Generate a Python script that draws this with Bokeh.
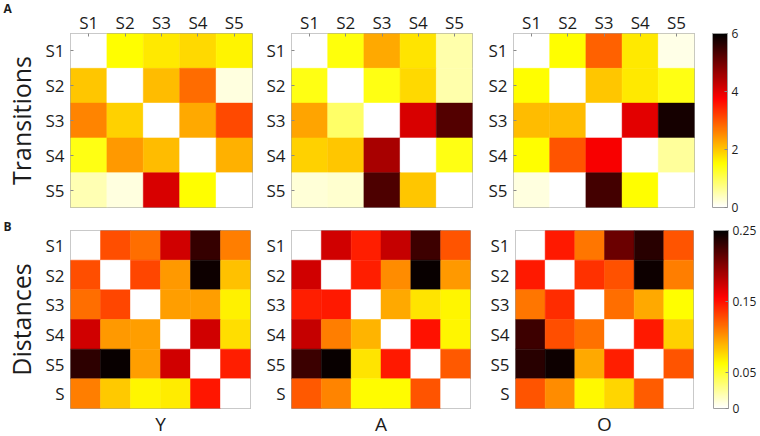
import numpy as np
from bokeh.plotting import figure
from bokeh.layouts import row, column
from bokeh.models import (ColumnDataSource, LinearColorMapper, ColorBar, FixedTicker,
                          FactorRange, Title)
from bokeh.transform import transform
from bokeh.embed import file_html
from bokeh.resources import INLINE

# ---------------- data ----------------
states5 = ["S1", "S2", "S3", "S4", "S5"]
states6 = ["S1", "S2", "S3", "S4", "S5", "S"]
groups = ["Y", "A", "O"]
panel_letters = ["A", "B"]

trans_Y = [
    [0.0, 1.5, 1.7, 1.85, 1.6],
    [2.0, 0.0, 2.1, 2.8, 0.2],
    [2.6, 1.9, 0.0, 2.25, 3.1],
    [1.4, 2.4, 2.1, 0.0, 2.2],
    [0.45, 0.2, 4.1, 1.5, 0.0],
]
trans_A = [
    [0.0, 1.45, 2.25, 1.75, 0.5],
    [1.4, 0.0, 1.4, 1.85, 0.5],
    [2.3, 0.9, 0.0, 4.1, 5.25],
    [1.9, 2.0, 4.5, 0.0, 1.4],
    [0.25, 0.3, 5.3, 2.0, 0.0],
]
trans_O = [
    [0.0, 1.5, 2.9, 1.7, 0.15],
    [1.5, 0.0, 2.0, 1.7, 1.4],
    [2.1, 2.1, 0.0, 4.0, 5.8],
    [1.5, 3.0, 3.8, 0.0, 0.6],
    [0.2, 0.02, 5.4, 1.5, 0.0],
]

dist_Y = [
    [0.0, 0.127, 0.116, 0.173, 0.230, 0.110],
    [0.127, 0.0, 0.130, 0.100, 0.245, 0.085],
    [0.116, 0.130, 0.0, 0.098, 0.098, 0.068],
    [0.173, 0.100, 0.098, 0.0, 0.173, 0.075],
    [0.233, 0.247, 0.098, 0.173, 0.0, 0.145],
    [0.110, 0.083, 0.066, 0.070, 0.148, 0.0],
]
dist_A = [
    [0.0, 0.173, 0.145, 0.177, 0.227, 0.125],
    [0.173, 0.0, 0.145, 0.105, 0.247, 0.100],
    [0.145, 0.147, 0.0, 0.094, 0.073, 0.066],
    [0.177, 0.110, 0.090, 0.0, 0.150, 0.066],
    [0.228, 0.247, 0.073, 0.147, 0.0, 0.124],
    [0.124, 0.108, 0.064, 0.064, 0.125, 0.0],
]
dist_O = [
    [0.0, 0.147, 0.113, 0.210, 0.235, 0.125],
    [0.147, 0.0, 0.138, 0.126, 0.245, 0.110],
    [0.113, 0.140, 0.0, 0.116, 0.094, 0.063],
    [0.227, 0.127, 0.115, 0.0, 0.147, 0.080],
    [0.235, 0.245, 0.094, 0.145, 0.0, 0.125],
    [0.125, 0.105, 0.065, 0.078, 0.123, 0.0],
]

trans_ticks = [0, 2, 4, 6]
trans_tick_labels = ["0", "2", "4", "6"]
dist_ticks = [0, 0.05, 0.15, 0.25]
dist_tick_labels = ["0", "0.05", "0.15", "0.25"]

# ---------------- style ----------------
FONT = "Open Sans"
TXT = "#1c1c1c"


def hot_reversed(n=256):
    cols = []
    for i in range(n):
        x = 1.0 - i / (n - 1)
        r = min(1.0, x / 0.375)
        g = min(1.0, max(0.0, (x - 0.375) / 0.375))
        b = min(1.0, max(0.0, (x - 0.75) / 0.25))
        cols.append("#%02x%02x%02x" % (int(round(r * 255)), int(round(g * 255)), int(round(b * 255))))
    return cols


PAL = hot_reversed()
map_t = LinearColorMapper(palette=PAL, low=0, high=6)
map_d = LinearColorMapper(palette=PAL, low=0, high=0.25)


def make_source(mat, labels):
    xs, ys, vs = [], [], []
    for i, rlab in enumerate(labels):
        for j, clab in enumerate(labels):
            xs.append(clab)
            ys.append(rlab)
            vs.append(mat[i][j])
    return ColumnDataSource(dict(x=xs, y=ys, v=vs))


def style_axis(ax):
    ax.axis_line_color = None
    ax.major_tick_line_color = "#8a8a8a"
    ax.major_tick_in = 3
    ax.major_tick_out = 0
    ax.minor_tick_line_color = None
    ax.major_label_text_font = FONT
    ax.major_label_text_font_size = "17px"
    ax.major_label_text_color = TXT
    ax.axis_label_text_font = FONT
    ax.axis_label_text_font_size = "25px"
    ax.axis_label_text_font_style = "normal"
    ax.axis_label_text_color = TXT


def add_letter(p, mapper, letter, vx, vy):
    # panel letter: the title of an invisible (fully transparent) scale box placed left of the frame
    cb = ColorBar(color_mapper=mapper, location=(vx, vy), orientation="horizontal",
                  width=1, height=1,
                  padding=0, margin=0, scale_alpha=0, bar_line_color=None,
                  ticker=FixedTicker(ticks=[]), major_tick_line_color=None,
                  minor_tick_line_color=None, border_line_color=None,
                  background_fill_alpha=0,
                  title=letter, title_standoff=0, title_text_font=FONT,
                  title_text_font_size="12px", title_text_font_style="bold",
                  title_text_color=TXT)
    p.add_layout(cb)


def panel(mat, labels, mapper, fw, fh, bl, br, bt, bb, top_axis, ylabel=None, group=None):
    p = figure(x_range=FactorRange(*labels), y_range=FactorRange(*reversed(labels)),
               frame_width=fw, frame_height=fh, title=None,
               min_border_left=bl, min_border_right=br, min_border_top=bt, min_border_bottom=bb,
               x_axis_location="above" if top_axis else None,
               toolbar_location=None, output_backend="svg")
    src = make_source(mat, labels)
    p.rect(x="x", y="y", width=1, height=1, source=src,
           fill_color=transform("v", mapper), line_color=transform("v", mapper), line_width=0.5)
    p.grid.visible = False
    p.outline_line_color = "#a0a0a0"
    p.outline_line_width = 1
    p.background_fill_color = "white"
    p.border_fill_color = "white"
    for ax in p.axis:
        style_axis(ax)
    p.yaxis.major_label_standoff = 6
    if top_axis:
        p.xaxis.major_label_standoff = 0
    else:
        p.yaxis.major_tick_line_color = None
    if ylabel:
        p.yaxis.axis_label = ylabel
        p.yaxis.axis_label_standoff = 4
    if group:
        p.add_layout(Title(text=group, align="center", text_font=FONT, text_font_size="19px",
                           text_font_style="normal", text_color=TXT, standoff=0), "below")
    return p


def cbar_fig(mapper, ticks, tick_labels, fh, bl, br, bt, bb):
    f = figure(x_range=(0, 1), y_range=(0, 1), frame_width=15, frame_height=fh, title=None,
               min_border_left=bl, min_border_right=br, min_border_top=bt, min_border_bottom=bb,
               x_axis_location=None, y_axis_location=None,
               toolbar_location=None, output_backend="svg")
    f.grid.visible = False
    f.outline_line_color = None
    f.border_fill_color = "white"
    cb = ColorBar(color_mapper=mapper, location=(0, 0), width=15, height=fh,
                  padding=0, margin=0,
                  ticker=FixedTicker(ticks=ticks),
                  major_label_overrides={t: s for t, s in zip(ticks, tick_labels)},
                  major_label_text_font=FONT, major_label_text_font_size="12px",
                  major_label_text_color=TXT,
                  bar_line_color="#a0a0a0", major_tick_line_color="#8a8a8a",
                  major_tick_in=3, major_tick_out=0, minor_tick_line_color=None,
                  label_standoff=4, border_line_color=None, background_fill_alpha=0)
    f.add_layout(cb)
    return f


# ---------------- top row (y 0..218) ----------------
TH = 174
t1 = panel(trans_Y, states5, map_t, 182, TH, 70, 1, 33, 11, True, ylabel="Transitions")
t2 = panel(trans_A, states5, map_t, 181, TH, 38, 1, 33, 11, True)
t3 = panel(trans_O, states5, map_t, 181, TH, 40, 1, 33, 11, True)
tc = cbar_fig(map_t, trans_ticks, trans_tick_labels, TH, 17, 30, 33, 11)
add_letter(t1, map_t, panel_letters[0], -67, 190)

# ---------------- bottom row (y 218..436) ----------------
BH = 178
b1 = panel(dist_Y, states6, map_d, 180, BH, 70, 1, 12, 28, False, ylabel="Distances", group=groups[0])
b2 = panel(dist_A, states6, map_d, 179, BH, 40, 1, 12, 28, False, group=groups[1])
b3 = panel(dist_O, states6, map_d, 178, BH, 44, 1, 12, 28, False, group=groups[2])
bc = cbar_fig(map_d, dist_ticks, dist_tick_labels, BH, 19, 29, 12, 28)
add_letter(b1, map_d, panel_letters[1], -67, 173)

layout = column(row(t1, t2, t3, tc), row(b1, b2, b3, bc))
open("out.html", "w").write(file_html(layout, INLINE))
